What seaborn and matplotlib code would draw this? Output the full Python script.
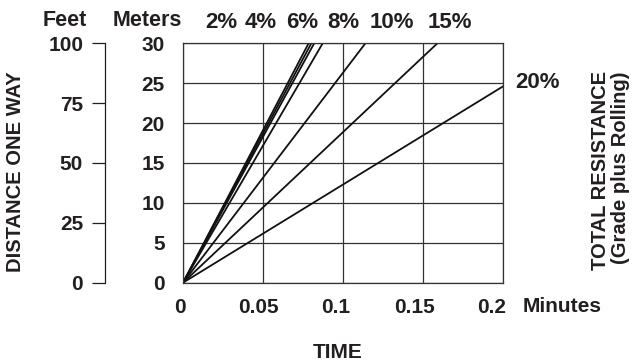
import numpy as np
import pandas as pd
import seaborn as sns
import matplotlib.pyplot as plt
import matplotlib.transforms as mtransforms

# grade lines: each runs from the origin to where it leaves the chart
grades = ['2%', '4%', '6%', '8%', '10%', '15%', '20%']
end_time = [0.0785, 0.0802, 0.0820, 0.0873, 0.114, 0.159, 0.2]
end_dist = [30, 30, 30, 30, 30, 30, 24.6]

x_ticks = [0, 0.05, 0.1, 0.15, 0.2]
x_tick_labels = ['0', '0.05', '0.1', '0.15', '0.2']
meter_ticks = [0, 5, 10, 15, 20, 25, 30]
feet_ticks = [0, 25, 50, 75, 100]

# label positions for the grade names across the top (pixels)
top_label_x = [205, 245, 286, 327, 370, 428]
# small leftward nudge of the time labels, as in the original (pixels)
x_label_shift = [-3, -5, -7, -8, -11]

sns.set_theme(style='white')
plt.rcParams['font.family'] = ['Liberation Sans', 'DejaVu Sans']
plt.rcParams['font.weight'] = 'bold'

W, H = 637, 363
fig = plt.figure(figsize=(W / 100, H / 100), dpi=100)
fig.patch.set_facecolor('white')

def px(x, y):
    return x / W, 1 - y / H

left, right, top, bottom = 183, 503, 43.3, 282.7
pos = [left / W, 1 - bottom / H, (right - left) / W, (bottom - top) / H]
ax = fig.add_axes(pos)

rows = []
for g, t, d in zip(grades, end_time, end_dist):
    rows.append({'grade': g, 'time': 0.0, 'dist': 0.0})
    rows.append({'grade': g, 'time': t, 'dist': d})
df = pd.DataFrame(rows)

sns.lineplot(data=df, x='time', y='dist', units='grade', estimator=None,
             color='#111111', linewidth=1.3, ax=ax, legend=False)

ax.set_xlim(0, 0.2)
ax.set_ylim(0, 30)
ax.set_xticks(x_ticks)
ax.set_xticklabels(x_tick_labels)
ax.set_yticks(meter_ticks)
ax.tick_params(axis='both', length=0, labelsize=15, colors='#231f20')
ax.tick_params(axis='x', pad=11)
ax.tick_params(axis='y', pad=13)
for lab in ax.get_xticklabels() + ax.get_yticklabels():
    lab.set_fontweight('bold')
for lab, dx in zip(ax.get_xticklabels(), x_label_shift):
    lab.set_transform(lab.get_transform() +
                      mtransforms.ScaledTranslation(dx / 100, 0, fig.dpi_scale_trans))
ax.grid(True, color='#333333', linewidth=0.9)
for s in ax.spines.values():
    s.set_color('#333333')
    s.set_linewidth(0.9)
    s.set_visible(True)
ax.set_xlabel('')
ax.set_ylabel('')

# feet axis, offset to the left
axf = fig.add_axes(pos, facecolor='none')
axf.set_ylim(0, 100)
axf.set_yticks(feet_ticks)
axf.set_xticks([])
for name, s in axf.spines.items():
    s.set_visible(name == 'left')
axf.spines['left'].set_position(('outward', 56))
axf.spines['left'].set_color('#231f20')
axf.spines['left'].set_linewidth(0.9)
axf.tick_params(axis='y', length=9.4, width=0.9, color='#231f20', pad=6.5,
                labelsize=15, labelcolor='#231f20', left=True)
for lab in axf.get_yticklabels():
    lab.set_fontweight('bold')

txt = dict(color='#231f20', fontweight='bold', ha='center', va='center')
fig.text(*px(64.7, 20), 'Feet', fontsize=15.5, **txt)
fig.text(*px(147.7, 20), 'Meters', fontsize=15.5, **txt)
for g, x in zip(grades[:-1], top_label_x):
    fig.text(*px(x, 23), g, fontsize=16, color='#231f20', fontweight='bold',
             ha='left', va='center')
fig.text(*px(538, 82.5), grades[-1], fontsize=16, **txt)
fig.text(*px(562, 306), 'Minutes', fontsize=15, **txt)
fig.text(*px(338, 353), 'TIME', fontsize=15, **txt)
fig.text(*px(15.5, 172), 'DISTANCE ONE WAY', fontsize=14.5, rotation=90, **txt)
fig.text(*px(600, 170), 'TOTAL RESISTANCE', fontsize=14.5, rotation=90, **txt)
fig.text(*px(621, 168), '(Grade plus Rolling)', fontsize=14.5, rotation=90, **txt)

fig.savefig('out.png', dpi=100)
